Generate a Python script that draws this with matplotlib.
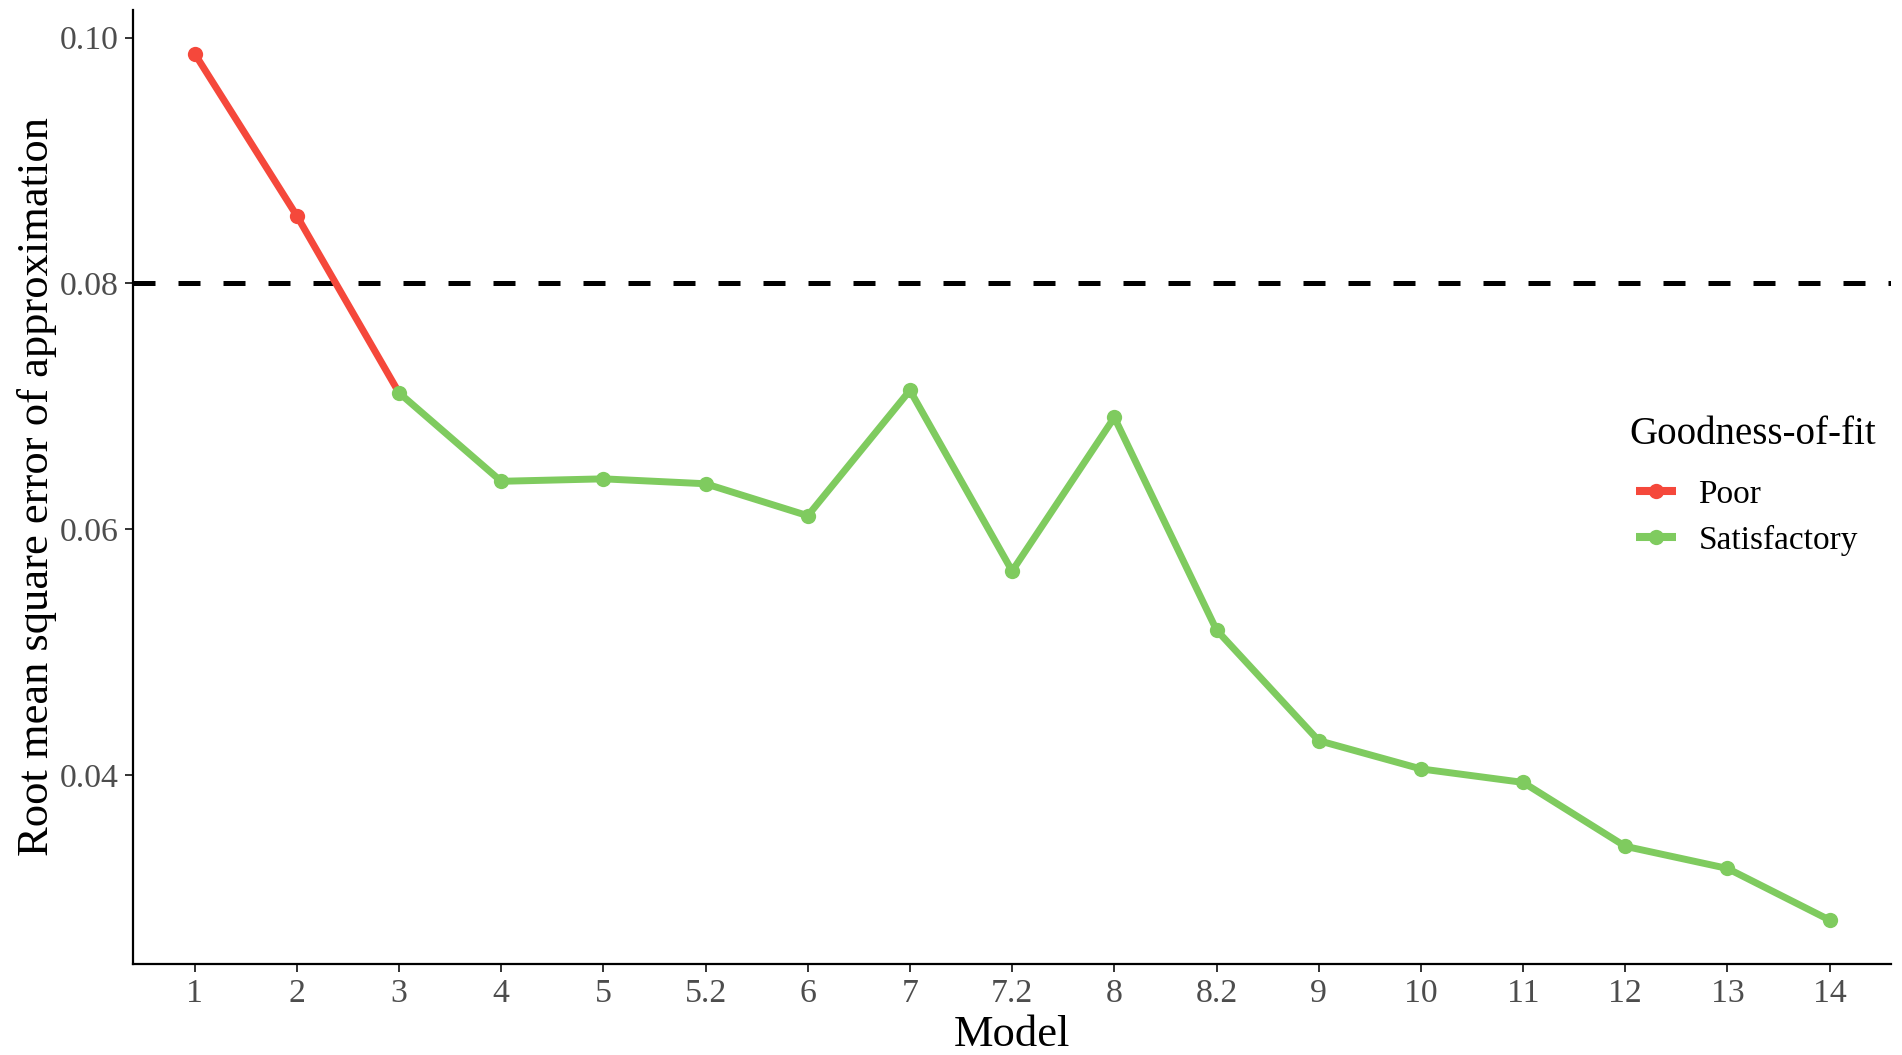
import matplotlib
matplotlib.use("Agg")
import matplotlib.pyplot as plt
from matplotlib.lines import Line2D

# ---- data ----
models = ["1", "2", "3", "4", "5", "5.2", "6", "7", "7.2", "8", "8.2",
          "9", "10", "11", "12", "13", "14"]
rmsea = [0.0987, 0.0855, 0.0711, 0.0639, 0.0641, 0.0637, 0.0611, 0.0713,
         0.0566, 0.0691, 0.0518, 0.0428, 0.0405, 0.0394, 0.0342, 0.0324, 0.0282]
fit = ["Poor", "Poor", "Satisfactory", "Satisfactory", "Satisfactory",
       "Satisfactory", "Satisfactory", "Satisfactory", "Satisfactory",
       "Satisfactory", "Satisfactory", "Satisfactory", "Satisfactory",
       "Satisfactory", "Satisfactory", "Satisfactory", "Satisfactory"]
groups = ["Poor", "Satisfactory"]
threshold = 0.08

colors = {"Poor": "#F5483B", "Satisfactory": "#7FCB5F"}

plt.rcParams['font.family'] = ['Liberation Serif', 'DejaVu Serif']

fig = plt.figure(figsize=(19.02, 10.55), dpi=100)
ax = fig.add_axes([0.0701, 0.0863, 0.9942 - 0.0701, 0.9908 - 0.0863])

x = list(range(len(models)))

# reference line
ax.axhline(threshold, color="black", lw=3.6, dashes=(4.4, 4.6), zorder=1)

# path segments coloured by the starting point's group
for i in range(len(x) - 1):
    ax.plot([x[i], x[i + 1]], [rmsea[i], rmsea[i + 1]],
            color=colors[fit[i]], lw=5.0, solid_capstyle="round", zorder=2)

# points
for g in groups:
    xs = [xi for xi, f in zip(x, fit) if f == g]
    ys = [yi for yi, f in zip(rmsea, fit) if f == g]
    ax.plot(xs, ys, "o", color=colors[g], ms=11, mew=0, zorder=3)

ax.set_xlim(-0.6, len(models) - 1 + 0.6)
ax.set_ylim(0.02463, 0.10227)
ax.set_xticks(x)
ax.set_xticklabels(models)
ax.set_yticks([0.04, 0.06, 0.08, 0.10])
ax.set_yticklabels(["0.04", "0.06", "0.08", "0.10"])

for s in ["top", "right"]:
    ax.spines[s].set_visible(False)
for s in ["left", "bottom"]:
    ax.spines[s].set_linewidth(1.6)
    ax.spines[s].set_color("black")

ax.tick_params(axis="both", length=5.5, width=1.4, color="#333333",
               labelsize=24.3, labelcolor="#4D4D4D", pad=5)

ax.set_xlabel("Model", fontsize=32, va="baseline")
ax.xaxis.set_label_coords(0.5, -0.0859)
ax.set_ylabel("Root mean square error of approximation", fontsize=32,
              rotation=90, rotation_mode="anchor", va="baseline", ha="center")
ax.yaxis.set_label_coords(-0.0486, 0.5)

# legend title
fig.text(1629 / 1902, 1 - 434.5 / 1055, "Goodness-of-fit", fontsize=28,
         ha="left", va="center")

handles = [Line2D([0], [0], color=colors[g], lw=5.8, marker="o", ms=11, mew=0,
                  solid_capstyle="butt")
           for g in groups]
leg = ax.legend(handles, groups, frameon=False,
                loc="center left", bbox_to_anchor=(1636 / 1902, 1 - 517.5 / 1055),
                bbox_transform=fig.transFigure, fontsize=24,
                handlelength=1.2, handletextpad=0.67, labelspacing=0.45,
                borderpad=0, borderaxespad=0)

fig.savefig("out.png", dpi=100)
